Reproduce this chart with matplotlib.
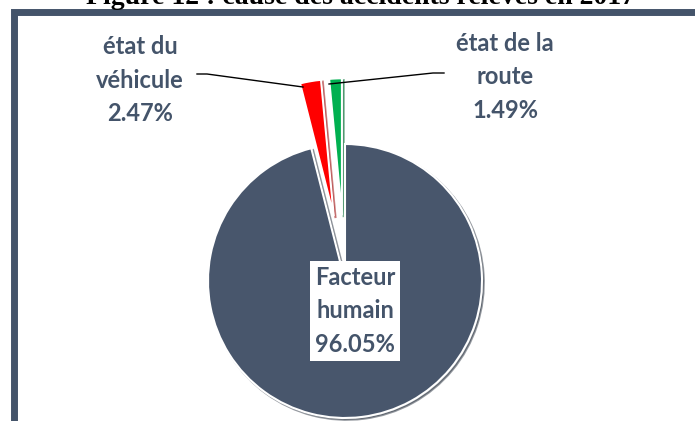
import matplotlib
matplotlib.use("Agg")
import matplotlib.pyplot as plt
from matplotlib.patches import Rectangle

# data
labels = ["Facteur\nhumain", "état du\nvéhicule", "état de la\nroute"]
values = [96.05, 2.47, 1.49]
colors = ["#48566c", "#ff0000", "#00b050"]
explode = [0.0, 0.48, 0.48]  # fraction of radius
title = "Figure 12 : cause des accidents relevés en 2017"

W, H = 695, 421
txt_col = "#44546a"
R = 137

fig = plt.figure(figsize=(W / 100, H / 100), dpi=100)
ax = fig.add_axes([0, 0, 1, 1])

def py(y):
    # pixel row from the top -> data y
    return H - y

# frame
ax.add_patch(Rectangle((14, -10), W + 20, py(11.5) + 10, fill=False,
                       edgecolor="#44546a", linewidth=5))

# title (cut at the top edge, as in the source)
ax.text(360, py(4), title, ha="center", va="baseline", fontsize=20,
        fontweight="bold", family="Liberation Serif", color="black")

# pie (explode in pie() is in data units, so scale by radius)
wedges, _ = ax.pie(values, colors=colors, explode=[e * R for e in explode],
                   startangle=90, counterclock=False,
                   center=(345, py(281)), radius=R, frame=True,
                   wedgeprops=dict(edgecolor="white", linewidth=1.5),
                   shadow=dict(ox=1.3, oy=-1.3, shade=0.4))
ax.set_xlim(0, W)
ax.set_ylim(0, H)
ax.set_aspect("auto")
ax.axis("off")

font = dict(family="Lato", fontweight="bold", color=txt_col, fontsize=17,
            ha="center", va="center", linespacing=1.55)

# center label
ax.text(355, py(311), labels[0] + "\n%.2f%%" % values[0],
        bbox=dict(boxstyle="square,pad=0.2", facecolor="white",
                  edgecolor="none"), **font)

# outside labels
ax.text(140, py(80), labels[1] + "\n%.2f%%" % values[1], **font)
ax.text(505, py(77), labels[2] + "\n%.2f%%" % values[2], **font)

# leader lines
ax.plot([197, 207, 303], [py(74), py(74), py(87)], color="black", lw=1)
ax.plot([329, 433, 444], [py(84), py(73), py(73)], color="black", lw=1)

fig.savefig("out.png", dpi=100)
